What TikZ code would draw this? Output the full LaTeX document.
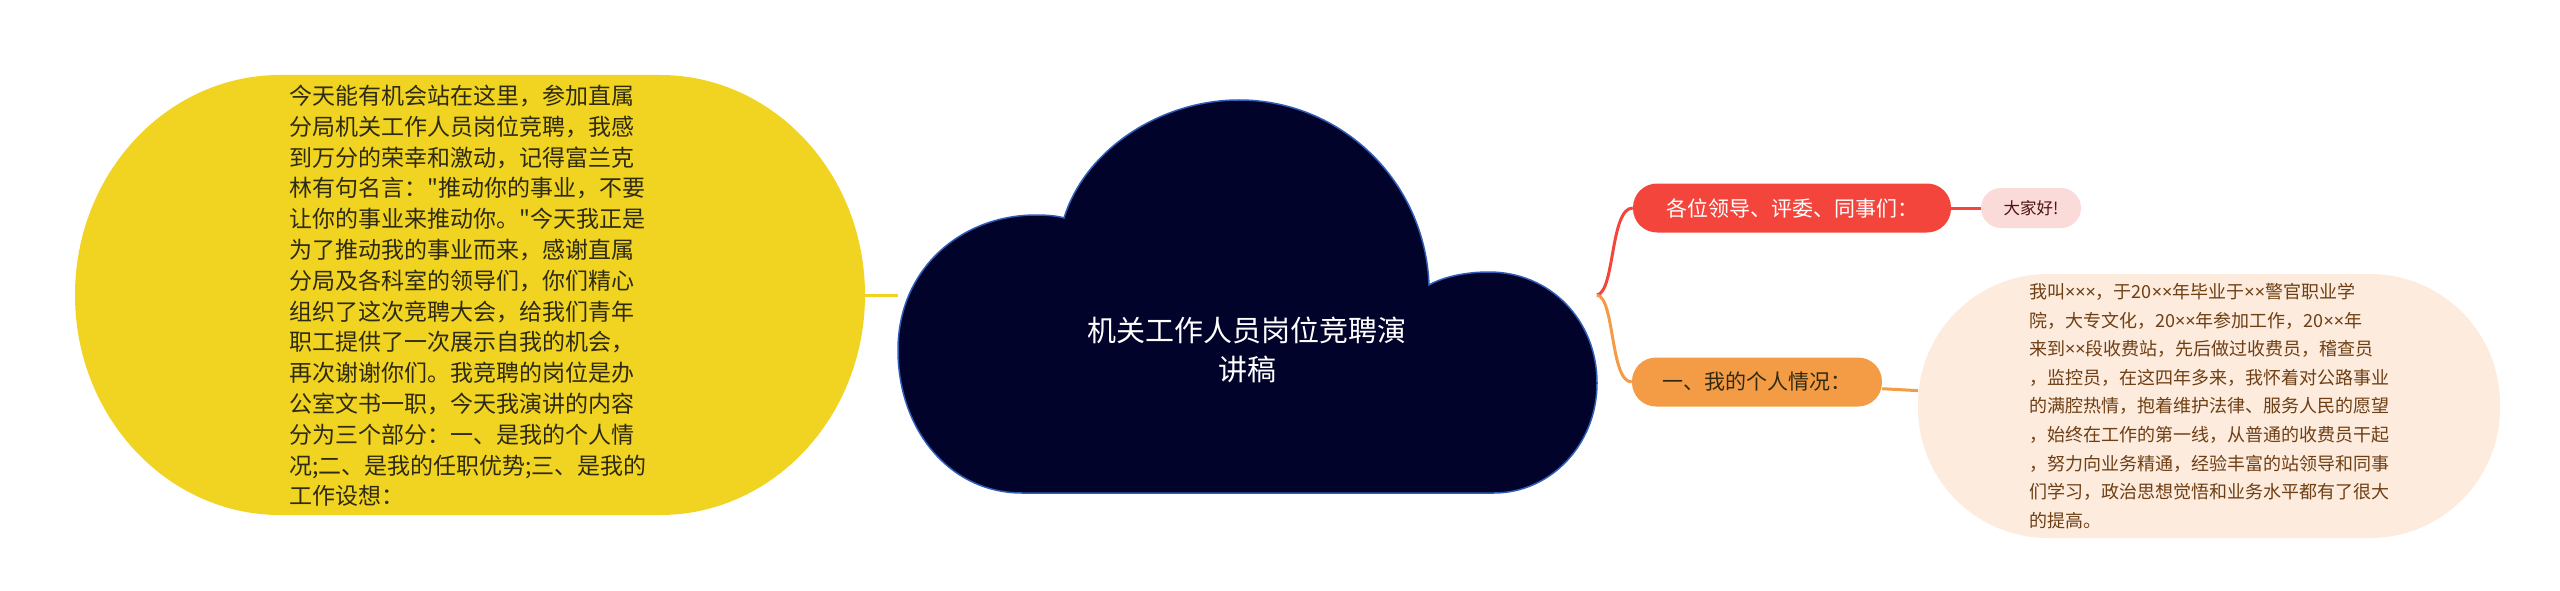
\documentclass[tikz,border=0pt]{standalone}
\usepackage{fontspec}
\setmainfont{Noto Sans CJK SC}[Ligatures=TeXOff]
\newfontfamily\latinfont{Noto Sans}
\usepackage{tikz}

\newcommand{\xx}{{\latinfont ×}}

\definecolor{introfill}{HTML}{F1D322}
\definecolor{introtext}{HTML}{2E2B12}
\definecolor{rootfill}{HTML}{02032A}
\definecolor{rootline}{HTML}{2F5DB8}
\definecolor{greetfill}{HTML}{F4453D}
\definecolor{hellofill}{HTML}{FBDADA}
\definecolor{hellotext}{HTML}{4A1410}
\definecolor{selffill}{HTML}{F39C45}
\definecolor{biofill}{HTML}{FDEBDD}
\definecolor{biotext}{HTML}{6E3F14}

\begin{document}
\begin{tikzpicture}[x=1pt,y=-1pt,
	topic/.style={rounded corners=24pt, minimum height=49pt, inner sep=0pt, font=\fontsize{21}{26}\selectfont},
	leaf/.style={rounded corners=20pt, minimum height=40pt, minimum width=100pt, inner sep=0pt, font=\fontsize{16.5}{20}\selectfont},
	link/.style={line width=3pt}]
		
		\useasboundingbox (0,0) rectangle (2560,591);
		
		% Shapes
		
		\fill[introfill] (280,75) -- (660,75) arc[start angle=-90, end angle=90, x radius=205, y radius=220]
			-- (280,515) arc[start angle=90, end angle=270, x radius=205, y radius=220] -- cycle;
		
		\draw[fill=rootfill, draw=rootline, line width=1.5pt]
			(1022,493) .. controls (950,493) and (898,430) .. (898,350)
			.. controls (898,270) and (960,215) .. (1036,215)
			.. controls (1048,215) and (1058,216) .. (1064,218)
			.. controls (1085,150) and (1160,100) .. (1239,100)
			.. controls (1340,100) and (1425,180) .. (1429,285)
			.. controls (1445,276) and (1468,272) .. (1489,272)
			.. controls (1550,272) and (1597,320) .. (1597,383)
			.. controls (1597,445) and (1550,493) .. (1494,493)
			-- cycle;
		
		% Node
		
		\node[text=introtext, align=left, font=\fontsize{23}{30.8}\selectfont]
		(intro) at (468,296) {今天能有机会站在这里，参加直属\\
			分局机关工作人员岗位竞聘，我感\\
			到万分的荣幸和激动，记得富兰克\\
			林有句名言："推动你的事业，不要\\
			让你的事业来推动你。"今天我正是\\
			为了推动我的事业而来，感谢直属\\
			分局及各科室的领导们，你们精心\\
			组织了这次竞聘大会，给我们青年\\
			职工提供了一次展示自我的机会，\\
			再次谢谢你们。我竞聘的岗位是办\\
			公室文书一职，今天我演讲的内容\\
			分为三个部分：一、是我的个人情\\
			况;二、是我的任职优势;三、是我的\\
			工作设想：};
		
		\node[text=white, align=center, font=\fontsize{29}{39}\selectfont]
		(root) at (1247,350) {机关工作人员岗位竞聘演\\讲稿};
		
		\node[topic, fill=greetfill, text=white, minimum width=318pt]
		(greet) at (1792,208) {各位领导、评委、同事们：};
		\node[topic, fill=selffill, text=introtext, minimum width=250pt]
		(self) at (1757,382) {一、我的个人情况：};
		
		\node[leaf, fill=hellofill, text=hellotext]
		(hello) at (2031,208) {大家好!};
		
		\node[fill=biofill, text=biotext, rounded corners=130pt, minimum width=582pt, minimum height=264pt,
			align=left, font=\fontsize{18}{28.6}\selectfont]
		(bio) at (2209,406) {我叫\xx\xx\xx，于20\xx\xx 年毕业于\xx\xx 警官职业学\\
			院，大专文化，20\xx\xx 年参加工作，20\xx\xx 年\\
			来到\xx\xx 段收费站，先后做过收费员，稽查员\\
			，监控员，在这四年多来，我怀着对公路事业\\
			的满腔热情，抱着维护法律、服务人民的愿望\\
			，始终在工作的第一线，从普通的收费员干起\\
			，努力向业务精通，经验丰富的站领导和同事\\
			们学习，政治思想觉悟和业务水平都有了很大\\
			的提高。};
		
		\coordinate (introE) at (865,295);
		\coordinate (rootW) at (898,295);
		\coordinate (fork) at (1597,295);
		
		% EDGE
		
		\draw[link, introfill] (introE) -- (rootW);
		\draw[link, greetfill] (fork) .. controls (1615,292) and (1610,208) .. (greet.west);
		\draw[link, selffill] (fork) .. controls (1615,298) and (1610,382) .. (self.west);
		
		% Exit EDGE
		
		\draw[link, greetfill] (greet) -- (hello);
		\draw[link, selffill] (self) -- (bio);
		
	\end{tikzpicture}
\end{document}
